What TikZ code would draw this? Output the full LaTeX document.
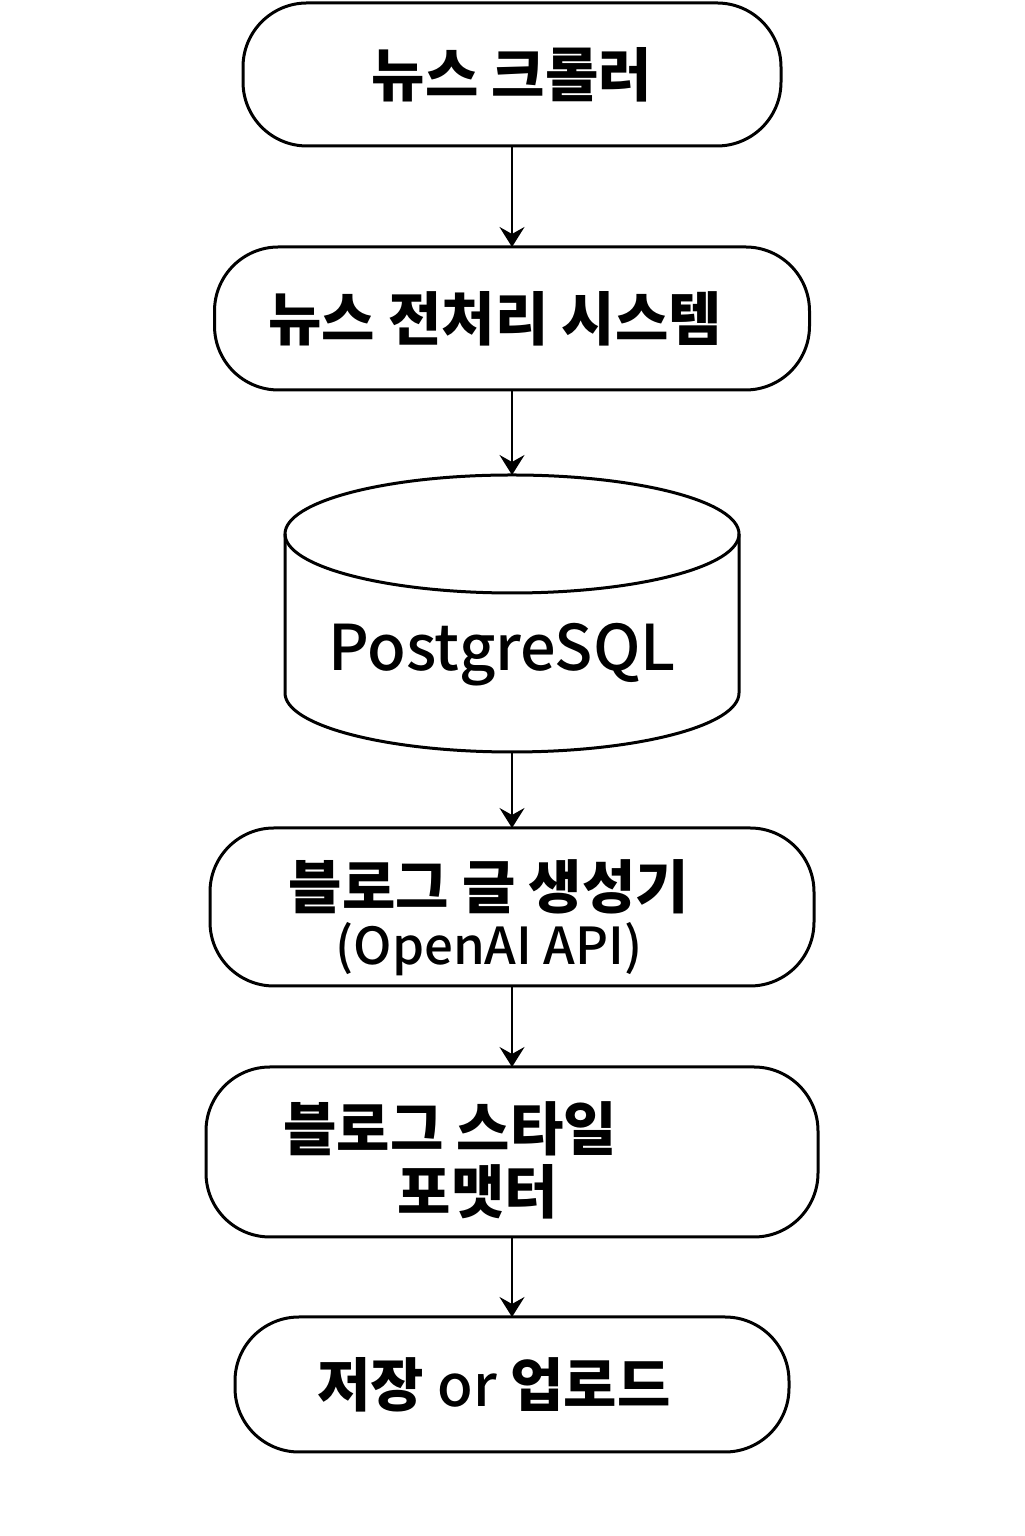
\documentclass[tikz,border=0pt]{standalone}
\usepackage{fontspec}
\setmainfont{Noto Sans CJK KR}
\newfontfamily\mediumfont{Noto Sans CJK KR Medium}
\usetikzlibrary{positioning}
\usetikzlibrary{arrows.meta}

\begin{document}
\begin{tikzpicture}
  [
    myblock/.style = {draw, rectangle, line width=1.5pt, rounded corners=32pt, outer sep=0pt},
    mylabel/.style = {inner sep=0pt, align=center, font=\fontsize{29}{34}\selectfont\bfseries},
    mylatin/.style = {inner sep=0pt, font=\fontsize{31.5}{38}\selectfont\mediumfont},
    myarrow/.style = {-{Stealth[length=10pt, width=12.5pt, inset=3.5pt]}, line width=1pt}
  ]
  %
  \useasboundingbox (0,0) rectangle (512pt,768pt);
  %
  \node (crawler) [myblock, minimum width=269pt, minimum height=71.5pt] at (256pt,730.75pt) {};
  \node (crawlerlbl) [mylabel] at (crawler.center) {뉴스 크롤러};
  %
  \node (prep) [myblock, minimum width=297.5pt, minimum height=71.5pt, below=50.5pt of crawler] {};
  \node (preplbl) [mylabel] at ([xshift=-8.5pt]prep.center) {뉴스 전처리 시스템};
  \draw [myarrow] (crawler) -- (prep);
  %
  \node (db) [minimum width=227pt, minimum height=138.5pt, outer sep=0pt, below=42.5pt of prep] {};
  \draw [line width=1.5pt] ([yshift=-29.5pt]db.north) ellipse [x radius=113.5pt, y radius=29.5pt];
  \draw [line width=1.5pt] ([yshift=-29.5pt]db.north west) -- ([yshift=29.5pt]db.south west)
    arc [start angle=180, end angle=360, x radius=113.5pt, y radius=29.5pt] -- ([yshift=-29.5pt]db.north east);
  \node (dblbl) [mylatin] at ([xshift=-5pt, yshift=-20.75pt]db.center) {PostgreSQL};
  \draw [myarrow] (prep) -- (db);
  %
  \node (gen) [myblock, minimum width=302pt, minimum height=79pt, below=38pt of db] {};
  \node (genlbl) [mylabel, font=\fontsize{29}{28}\selectfont\bfseries] at ([xshift=-11.5pt, yshift=-5.5pt]gen.center)
    {블로그 글 생성기\\{\mediumfont\mdseries\fontsize{25.5}{28}\selectfont (OpenAI API)}};
  \draw [myarrow] (db) -- (gen);
  %
  \node (fmt) [myblock, minimum width=306pt, minimum height=85pt, below=40.5pt of gen] {};
  \node (fmtlbl) [mylabel, font=\fontsize{29}{31.5}\selectfont\bfseries] at ([xshift=-31pt, yshift=-4pt]fmt.center)
    {블로그 스타일\\\hspace*{28pt}포맷터};
  \draw [myarrow] (gen) -- (fmt);
  %
  \node (store) [myblock, minimum width=277pt, minimum height=67.5pt, below=40pt of fmt] {};
  \node (storelbl) [mylabel] at ([xshift=-9pt]store.center) {저장 {\mediumfont\mdseries or} 업로드};
  \draw [myarrow] (fmt) -- (store);
  %
\end{tikzpicture}
\end{document}
